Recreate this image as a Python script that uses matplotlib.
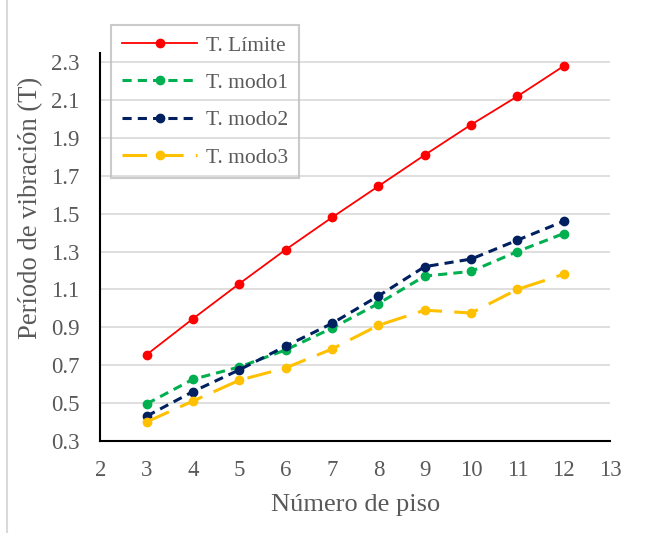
import matplotlib
matplotlib.use('Agg')
import matplotlib.pyplot as plt
from matplotlib.lines import Line2D

plt.rcParams['font.family'] = ['Liberation Serif', 'DejaVu Serif']

# Número de piso y periodos de vibración
pisos = [3, 4, 5, 6, 7, 8, 9, 10, 11, 12]
t_limite = [0.755, 0.945, 1.13, 1.31, 1.48, 1.645, 1.81, 1.97, 2.12, 2.28]
t_modo1 = [0.495, 0.625, 0.69, 0.78, 0.895, 1.025, 1.17, 1.195, 1.30, 1.395]
t_modo2 = [0.43, 0.56, 0.675, 0.80, 0.92, 1.065, 1.22, 1.26, 1.36, 1.46]
t_modo3 = [0.40, 0.51, 0.62, 0.685, 0.785, 0.91, 0.99, 0.975, 1.10, 1.18]

x_ticks = list(range(2, 14))
y_ticks = [0.3, 0.5, 0.7, 0.9, 1.1, 1.3, 1.5, 1.7, 1.9, 2.1, 2.3]

gris = '#595959'

fig = plt.figure(figsize=(6.47, 5.33), dpi=100)
# borde izquierdo del área del gráfico
fig.add_artist(Line2D([7 / 647, 7 / 647], [0, 1], color='#d9d9d9', lw=1.5))
ax = fig.add_axes([0.155, 0.173, 0.788, 0.728])

ax.plot(pisos, t_limite, color='#ff0000', lw=1.3, marker='o', ms=6, label='T. Límite')
ax.plot(pisos, t_modo1, color='#00b050', lw=2.2, ls=(0, (3, 2)), marker='o', ms=6, label='T. modo1')
ax.plot(pisos, t_modo2, color='#002060', lw=2.2, ls=(0, (3, 2)), marker='o', ms=6, label='T. modo2')
ax.plot(pisos, t_modo3, color='#ffc000', lw=2.2, ls=(0, (8, 4)), marker='o', ms=6, label='T. modo3')

ax.set_xlim(2, 13)
ax.set_ylim(0.3, 2.35)
ax.set_xticks(x_ticks)
ax.set_yticks(y_ticks)
ax.set_yticklabels([f'{v:.1f}' for v in y_ticks])
ax.tick_params(length=0, labelsize=16.5, colors=gris)
ax.tick_params(axis='x', pad=14)
ax.tick_params(axis='y', pad=15)
ax.grid(axis='y', color='#d9d9d9', lw=1.2)
ax.set_axisbelow(True)

for s in ['top', 'right']:
    ax.spines[s].set_visible(False)
for s in ['left', 'bottom']:
    ax.spines[s].set_color('black')
    ax.spines[s].set_linewidth(1.5)

ax.set_xlabel('Número de piso', fontsize=19, color=gris, labelpad=9)
ax.set_ylabel('Período de vibración (T)', fontsize=19.2, color=gris)
ax.yaxis.set_label_coords(-0.112, 0.60)

leg = ax.legend(loc='upper left', bbox_to_anchor=(0.0216, 1.072), fontsize=15.5,
                frameon=True, fancybox=False, edgecolor='#bfbfbf',
                facecolor='none', labelcolor=gris, handlelength=3.5,
                handletextpad=0.4, labelspacing=0.8, borderpad=0.5,
                borderaxespad=0)
leg.get_frame().set_linewidth(1.5)

fig.savefig('out.png', dpi=100)
